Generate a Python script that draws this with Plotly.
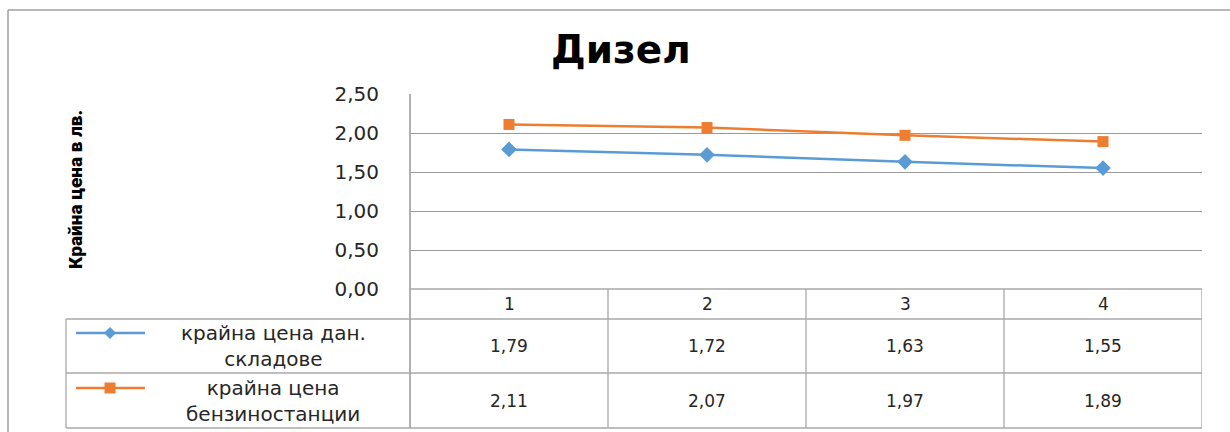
import plotly.graph_objects as go

# ---- data ----
categories = [1, 2, 3, 4]
series_names = ["крайна цена дан.<br>складове", "крайна цена<br>бензиностанции"]
warehouse = [1.79, 1.72, 1.63, 1.55]
stations = [2.11, 2.07, 1.97, 1.89]
title_text = "Дизел"
y_title = "Крайна цена в лв."

W, H = 1230, 432
BLUE = "#5B9BD5"
ORANGE = "#ED7D31"
GRID = "#9a9a9a"
TBL = "#a8a8a8"
TXT = "#262626"
FONT = "DejaVu Sans, sans-serif"


def px(xp):
    return xp / W


def py(yp):
    return 1 - yp / H


plot_l, plot_r, plot_t, plot_b = 410, 1202, 94, 289
row_y = [289, 319, 373, 428]
legend_l = 66

fig = go.Figure()
fig.add_trace(go.Scatter(x=categories, y=warehouse, mode="lines+markers",
                         line=dict(color=BLUE, width=2.5),
                         marker=dict(symbol="diamond", size=12, color=BLUE),
                         showlegend=False))
fig.add_trace(go.Scatter(x=categories, y=stations, mode="lines+markers",
                         line=dict(color=ORANGE, width=2.5),
                         marker=dict(symbol="square", size=11, color=ORANGE),
                         showlegend=False))

shapes = []
shapes.append(dict(type="line", xref="paper", yref="paper", x0=px(8), x1=px(8),
                   y0=py(10), y1=py(440), line=dict(color="#a0a0a0", width=1.5)))
shapes.append(dict(type="line", xref="paper", yref="paper", x0=px(8), x1=px(1240),
                   y0=py(10), y1=py(10), line=dict(color="#a0a0a0", width=1.5)))
shapes.append(dict(type="line", xref="paper", yref="paper", x0=px(plot_l), x1=px(plot_l),
                   y0=py(plot_t), y1=py(row_y[-1]), line=dict(color=TBL, width=1.8)))
shapes.append(dict(type="line", xref="paper", yref="paper", x0=px(plot_l), x1=px(plot_r),
                   y0=py(row_y[0]), y1=py(row_y[0]), line=dict(color=TBL, width=1.3)))
for r in row_y[1:]:
    shapes.append(dict(type="line", xref="paper", yref="paper", x0=px(legend_l), x1=px(plot_r),
                       y0=py(r), y1=py(r), line=dict(color=TBL, width=1.3)))
shapes.append(dict(type="line", xref="paper", yref="paper", x0=px(legend_l), x1=px(legend_l),
                   y0=py(row_y[1]), y1=py(row_y[-1]), line=dict(color=TBL, width=1.3)))
for c in categories:
    shapes.append(dict(type="line", xref="x", yref="paper", x0=c + 0.5, x1=c + 0.5,
                       y0=py(row_y[0]), y1=py(row_y[-1]), line=dict(color=TBL, width=1.3)))

key_y = [333, 388]
key_colors = [BLUE, ORANGE]
for ky, col in zip(key_y, key_colors):
    shapes.append(dict(type="line", xref="paper", yref="paper", x0=px(76), x1=px(145),
                       y0=py(ky), y1=py(ky), line=dict(color=col, width=2.5)))
d = 6
shapes.append(dict(type="path", xref="paper", yref="paper",
                   path=f"M {px(110 - d)},{py(key_y[0])} L {px(110)},{py(key_y[0] - d)} "
                        f"L {px(110 + d)},{py(key_y[0])} L {px(110)},{py(key_y[0] + d)} Z",
                   fillcolor=BLUE, line=dict(color=BLUE, width=0)))
s = 5.5
shapes.append(dict(type="rect", xref="paper", yref="paper",
                   x0=px(110 - s), x1=px(110 + s), y0=py(key_y[1] - s), y1=py(key_y[1] + s),
                   fillcolor=ORANGE, line=dict(color=ORANGE, width=0)))


def ann(text, x, y, size, xref="paper", bold=False, angle=0, color=TXT, family=FONT, weight=None):
    f = dict(family=family, size=size, color=color)
    if weight:
        f["weight"] = weight
    return dict(text=f"<b>{text}</b>" if bold else text, xref=xref, yref="paper",
                x=x, y=y, showarrow=False, xanchor="center", yanchor="middle",
                align="center", textangle=angle, font=f)


annotations = []
annotations.append(ann(title_text, px(621), py(49), 39, bold=True, color="#000000"))
annotations.append(ann(y_title, px(75), py(190), 19, angle=-90, color="#000000",
                       family="Roboto, sans-serif", weight=900))
for c in categories:
    annotations.append(ann(str(c), c, py((row_y[0] + row_y[1]) / 2), 17, xref="x"))
for ri, vals in enumerate([warehouse, stations]):
    yc = py((row_y[ri + 1] + row_y[ri + 2]) / 2)
    for c, v in zip(categories, vals):
        annotations.append(ann(f"{v:.2f}".replace(".", ","), c, yc, 17, xref="x"))
    annotations.append(ann(series_names[ri], px(273), yc, 20))

fig.update_layout(
    template="none",
    width=W, height=H, autosize=False,
    margin=dict(l=0, r=0, t=0, b=0, pad=0),
    paper_bgcolor="white", plot_bgcolor="white",
    separators=",.",
    xaxis=dict(domain=[px(plot_l), px(plot_r)], range=[0.5, 4.5], showticklabels=False,
               showgrid=False, zeroline=False, showline=False, ticks="", automargin=False),
    yaxis=dict(domain=[py(plot_b), py(plot_t)], range=[0, 2.5], dtick=0.5, tickformat=".2f",
               showgrid=True, gridcolor=GRID, gridwidth=1.3, zeroline=False, showline=False,
               ticks="", ticklabelstandoff=30, automargin=False,
               tickfont=dict(family=FONT, size=20, color=TXT)),
    shapes=shapes,
    annotations=annotations,
)

fig.write_html("out.html",
               config={"displayModeBar": False},
               post_script="document.body.style.margin='0';document.body.style.overflow='hidden';")
